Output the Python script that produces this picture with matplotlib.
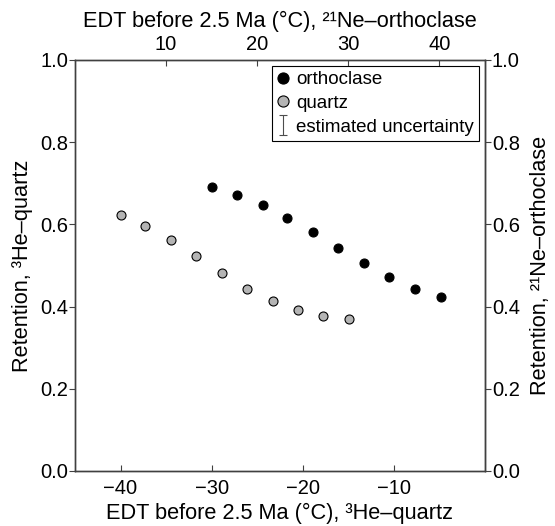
import matplotlib
matplotlib.use("Agg")
from matplotlib import pyplot as plt
from matplotlib.lines import Line2D
from matplotlib.path import Path

plt.rcParams["font.family"] = ["Liberation Sans", "DejaVu Sans"]

# quartz: bottom axis (EDT, 3He-quartz)
quartz_edt = [-40.0, -37.3, -34.5, -31.7, -28.9, -26.1, -23.3, -20.5, -17.8, -14.9]
quartz_ret = [0.622, 0.595, 0.561, 0.522, 0.481, 0.443, 0.413, 0.392, 0.378, 0.369]

# orthoclase: top axis (EDT, 21Ne-orthoclase)
orth_edt = [15.0, 17.8, 20.6, 23.3, 26.1, 28.9, 31.7, 34.5, 37.3, 40.2]
orth_ret = [0.691, 0.671, 0.646, 0.615, 0.581, 0.543, 0.505, 0.471, 0.443, 0.423]

bottom_ticks = [-40, -30, -20, -10]
top_ticks = [10, 20, 30, 40]
y_ticks = [0.0, 0.2, 0.4, 0.6, 0.8, 1.0]

spine_col = "0.25"
fs = 14.5
lfs = 15.7


def style(a):
    for s in a.spines.values():
        s.set_color(spine_col)
        s.set_linewidth(1.0)


fig = plt.figure(figsize=(5.55, 5.26), dpi=100)
ax = fig.add_axes([0.1351, 0.1046, 0.7387, 0.7814])

ax.scatter(quartz_edt, quartz_ret, s=42, c="#b4b4b4", edgecolors="black",
           linewidths=0.8, zorder=3)
ax.set_xlim(-45, 0)
ax.set_ylim(0, 1)
ax.set_xticks(bottom_ticks)
ax.set_xticklabels(["\u2212%d" % abs(t) for t in bottom_ticks])
ax.set_yticks(y_ticks)
ax.set_yticklabels(["%.1f" % t for t in y_ticks])
ax.tick_params(axis="x", direction="in", length=4, pad=6, labelsize=fs, color=spine_col)
ax.tick_params(axis="y", direction="out", length=4, pad=1, labelsize=fs, color=spine_col)
ax.set_xlabel("EDT before 2.5 Ma (\u00b0C), \u00b3He\u2013quartz", fontsize=lfs, labelpad=3)
ax.set_ylabel("Retention, \u00b3He\u2013quartz", fontsize=lfs, labelpad=5)
style(ax)

axr = ax.secondary_yaxis("right")
axr.set_yticks(y_ticks)
axr.set_yticklabels(["%.1f" % t for t in y_ticks])
axr.tick_params(direction="out", length=4, pad=1, labelsize=fs, color=spine_col)
axr.set_ylabel("Retention, \u00b2\u00b9Ne\u2013orthoclase", fontsize=lfs, labelpad=7)
axr.spines["right"].set_color(spine_col)

axt = ax.twiny()
axt.scatter(orth_edt, orth_ret, s=42, c="black", edgecolors="black",
            linewidths=0.8, zorder=3)
axt.set_xlim(0, 45)
axt.set_xticks(top_ticks)
axt.tick_params(axis="x", direction="in", length=4, pad=4, labelsize=fs, color=spine_col)
axt.set_xlabel("EDT before 2.5 Ma (\u00b0C), \u00b2\u00b9Ne\u2013orthoclase", fontsize=lfs, labelpad=6)
style(axt)

# I-beam marker for the uncertainty legend entry
ibeam = Path([(-0.4, -1), (0.4, -1), (0, -1), (0, 1), (-0.4, 1), (0.4, 1)],
             [Path.MOVETO, Path.LINETO, Path.MOVETO, Path.LINETO, Path.MOVETO, Path.LINETO])
handles = [
    Line2D([], [], ls="none", marker="o", ms=8, mfc="black", mec="black", mew=0.8),
    Line2D([], [], ls="none", marker="o", ms=8, mfc="#b4b4b4", mec="black", mew=0.8),
    Line2D([], [], ls="none", marker=ibeam, ms=14, mfc="none", mec="0.3", mew=0.8),
]
labels = ["orthoclase", "quartz", "estimated uncertainty"]
leg = axt.legend(handles, labels, loc="upper right", fontsize=13.5, frameon=True,
                 fancybox=False, edgecolor="black", handlelength=0.6,
                 handletextpad=0.4, labelspacing=0.35, borderpad=0.3,
                 borderaxespad=0.3, framealpha=1)
leg.get_frame().set_linewidth(0.8)

fig.savefig("out.png", dpi=100)
